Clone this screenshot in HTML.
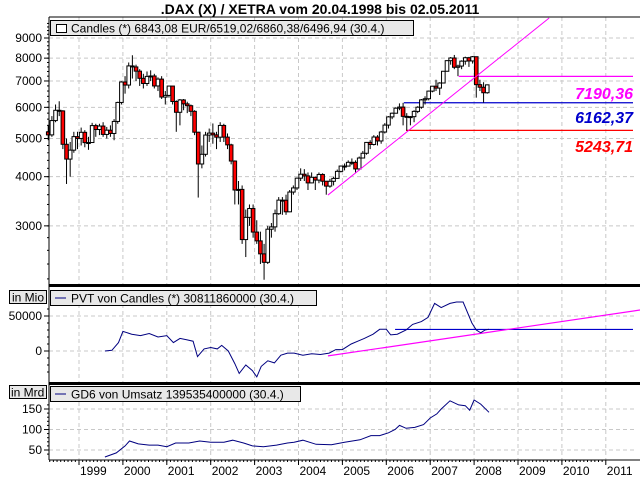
<!DOCTYPE html>
<html><head><meta charset="utf-8">
<style>
html,body{margin:0;padding:0;background:#fff;}
svg{display:block;font-family:"Liberation Sans",sans-serif;}
</style></head>
<body>
<svg id="chart" width="640" height="480" viewBox="0 0 640 480" xmlns="http://www.w3.org/2000/svg">
<rect x="0" y="0" width="640" height="480" fill="#fff"/>
<text x="320" y="14" text-anchor="middle" font-size="14" font-weight="bold">.DAX (X) / XETRA vom 20.04.1998 bis 02.05.2011</text>
<g id="grid"></g>
<g id="marks"></g>
<g id="axes"></g>
</svg>
<script>
// ---------- data ----------
const closes = [5107,5553,5897,5876,4834,4433,4671,5055,5002,
5184,4881,4884,5392,5270,5378,5121,5249,5150,5525,6174,6958,
6835,7644,7599,7414,7110,6898,7190,7208,6799,7077,6372,6434,
6795,6208,5829,6265,6123,6058,5862,5188,4308,4559,5102,5160,
5108,5039,5397,5041,4818,4383,3700,3713,2769,3153,3320,2893,
2748,2547,2424,2942,2982,3221,3487,3485,3257,3656,3745,3965,
4058,4018,3857,3985,3921,4052,3895,3785,3893,3960,4126,4256,
4255,4350,4349,4185,4461,4587,4887,4829,5044,4929,5194,5408,
5674,5797,5970,6009,5692,5683,5682,5859,6004,6268,6309,6597,
6789,6715,6917,7409,7883,8007,7584,7638,7861,8019,7870,8067,
6851,6748,6535,6843];
const highs = [5400,5700,6100,6217,5900,5000,4900,5200,5200,
5330,5250,5050,5480,5450,5450,5500,5350,5400,5600,6200,6990,
7200,7800,8136,7700,7500,7300,7400,7450,7300,7150,7200,6600,
6800,6800,6250,6300,6300,6200,6100,5900,5200,4800,5200,5300,
5460,5200,5500,5450,5150,4850,4400,3900,3800,3300,3400,3400,
3100,2900,2700,3000,3050,3300,3550,3550,3600,3700,3800,3980,
4200,4180,4100,4100,4000,4100,4080,3900,3950,4000,4170,4270,
4320,4400,4450,4400,4500,4650,4900,4950,5100,5100,5230,5470,
5700,5820,6000,6140,6160,5800,5700,5900,6040,6300,6400,6620,
6800,7050,6950,7420,7900,8050,8151,7700,7900,8070,8060,8100,
8050,7050,6950,6860];
const lows = [4950,5050,5500,5700,4700,3833,4000,4600,4700,
4800,4750,4680,4880,5050,5100,5050,5000,5050,4950,5450,6100,
6500,6700,7100,7000,6800,6700,6800,7000,6700,6600,6300,6100,
6350,6100,5200,5400,5900,5800,5700,5100,3540,4200,4500,4900,
4850,4700,4900,4900,4700,4300,3400,3400,2700,2500,3000,2800,
2700,2400,2189,2400,2800,2900,3200,3200,3200,3250,3600,3700,
3900,3900,3700,3850,3700,3850,3800,3600,3750,3800,3950,4100,
4150,4250,4280,4100,4150,4450,4550,4700,4800,4800,4850,5150,
5300,5600,5800,5900,5400,5240,5400,5500,5800,5950,6100,6250,
6550,6600,6450,6900,7400,7700,7500,7200,7500,7700,7600,7750,
6350,6600,6168,6497];
const firstOpen = 5200;
const priceLevels = [7190.36, 6162.37, 5243.71];
const priceLabels = ["7190,36","6162,37","5243,71"];
const priceTicks = [9000,8000,7000,6000,5000,4000,3000];
const years = [1999,2000,2001,2002,2003,2004,2005,2006,2007,2008,2009,2010,2011];

const pvtDates = [1999.59,1999.75,1999.9,2000.0,2000.2,2000.4,2000.6,2000.8,2001.0,2001.15,2001.3,2001.45,2001.6,2001.7,2001.85,2002.0,2002.15,2002.25,2002.4,2002.55,2002.65,2002.8,2002.95,2003.05,2003.15,2003.3,2003.45,2003.6,2003.75,2003.9,2004.1,2004.3,2004.5,2004.7,2004.85,2005.0,2005.2,2005.35,2005.5,2005.7,2005.85,2006.0,2006.1,2006.25,2006.45,2006.6,2006.8,2006.95,2007.1,2007.25,2007.45,2007.6,2007.75,2007.95,2008.05,2008.15,2008.25,2008.34];
const pvtValues = [0,1000,12000,28000,24000,22000,25000,20000,22000,12000,18000,16000,14000,-8000,3000,5000,3000,8000,0,-18000,-32000,-20000,-28000,-37000,-22000,-14000,-17000,-6000,-3000,-3000,-6000,-4000,-5000,-3000,2000,2000,10000,14000,18000,24000,31000,31000,23000,24000,30000,38000,42000,48000,68000,62000,68000,70000,70000,40000,30000,26000,30000,31000];
const pvtLevel = 30811.86;
const pvtTrend = [[2004.67,-7000],[2011.94,60000]];
const pvtTicks = [50000,0];

const gdDates = [1999.59,1999.85,2000.05,2000.15,2000.35,2000.6,2000.8,2001.0,2001.2,2001.5,2001.75,2002.0,2002.3,2002.5,2002.75,2002.95,2003.2,2003.5,2003.75,2003.9,2004.1,2004.4,2004.75,2005.05,2005.4,2005.65,2005.85,2006.05,2006.2,2006.3,2006.45,2006.65,2006.85,2007.0,2007.15,2007.25,2007.45,2007.65,2007.8,2007.9,2008.0,2008.15,2008.34];
const gdValues = [33,43,60,72,65,62,62,58,67,67,72,69,69,74,67,60,58,62,67,69,74,64,63,69,75,85,85,92,100,110,103,105,112,128,138,150,170,160,158,147,172,162,142];
const gdTicks = [150,100,50];
const pricePinkLine = [[2004.67,3592],[2009.71,10116]];

// ---------- scales ----------
const X0 = 49, XR = 636;
function xT(t){ return 79 + (t - 1999) * 43.9; }
function xM(i){ return xT(1998 + (i + 4) / 12) - 1.5; }
function yP(p){ return 38 + 171 * Math.log(9000 / p); }
function yV(v){ return 351 - v * 0.0007; }
function yG(v){ return 450 - (v - 50) * 0.41; }

const NS = "http://www.w3.org/2000/svg";
function mk(tag, attrs, parent){
  const e = document.createElementNS(NS, tag);
  for (const k in attrs) e.setAttribute(k, attrs[k]);
  parent.appendChild(e);
  return e;
}
const grid = document.getElementById('grid');
const marks = document.getElementById('marks');
const axes = document.getElementById('axes');
const GC = "#c8c8c8";

// vertical gridlines + year labels
years.forEach(y => {
  const x = xT(y);
  let g = mk('line', {x1:x, x2:x, y1:17, y2:460, stroke:GC, 'stroke-dasharray':'4,3'}, grid);
  
  
  let tk = mk('line', {x1:x, x2:x, y1:460, y2:465, stroke:'#000'}, axes);
  
  
  let t = mk('text', {x:x + 1, y:475, 'font-size':12}, axes);
  t.textContent = String(y);
  
  
});
for (let m = 0; m < 13*12; m++){
  const x = xT(1998 + m/12);
  if (x < X0 || x > XR) continue;
  let tk = mk('line', {x1:x, x2:x, y1:460, y2:462, stroke:'#000'}, axes);
  
  
}

// price horizontal grid + ticks
priceTicks.forEach(p => {
  const y = yP(p);
  let g = mk('line', {x1:X0, x2:XR, y1:y, y2:y, stroke:GC, 'stroke-dasharray':'4,3'}, grid);
  
  
  let tk = mk('line', {x1:X0-5, x2:X0, y1:y, y2:y, stroke:'#000'}, axes);
  
  
  let t = mk('text', {x:X0-7, y:y+4, 'font-size':12, 'text-anchor':'end'}, axes);
  t.textContent = String(p);
  
  
});
for (let p = 2200; p <= 9800; p += 200){
  const y = yP(p);
  if (y < 18 || y > 283) continue;
  let tk = mk('line', {x1:X0-2, x2:X0, y1:y, y2:y, stroke:'#000'}, axes);
  
  
}
pvtTicks.forEach(v => {
  const y = yV(v);
  let g = mk('line', {x1:X0, x2:XR, y1:y, y2:y, stroke:GC, 'stroke-dasharray':'4,3'}, grid);
  
  
  let tk = mk('line', {x1:X0-5, x2:X0, y1:y, y2:y, stroke:'#000'}, axes);
  
  
  let t = mk('text', {x:X0-7, y:y+4, 'font-size':12, 'text-anchor':'end'}, axes);
  t.textContent = String(v);
  
  
});
for (let v = -30000; v <= 60000; v += 10000){
  const y = yV(v);
  if (y < 290 || y > 381) continue;
  let tk = mk('line', {x1:X0-2, x2:X0, y1:y, y2:y, stroke:'#000'}, axes);
  
  
}
gdTicks.forEach(v => {
  const y = yG(v);
  let g = mk('line', {x1:X0, x2:XR, y1:y, y2:y, stroke:GC, 'stroke-dasharray':'4,3'}, grid);
  
  
  let tk = mk('line', {x1:X0-5, x2:X0, y1:y, y2:y, stroke:'#000'}, axes);
  
  
  let t = mk('text', {x:X0-7, y:y+4, 'font-size':12, 'text-anchor':'end'}, axes);
  t.textContent = String(v);
  
  
});
for (let v = 40; v <= 170; v += 10){
  const y = yG(v);
  if (y < 402 || y > 459) continue;
  let tk = mk('line', {x1:X0-2, x2:X0, y1:y, y2:y, stroke:'#000'}, axes);
  
  
}

// price reference lines
const lvlColors = ["#ff00ff","#0000cc","#ff0000"];
const lvlStart = [2007.65, 2006.4, 2006.45];
const lblY = [99, 123, 152];
priceLevels.forEach((p,i) => {
  const y = yP(p);
  let l = mk('line', {x1:xT(lvlStart[i]), x2:633, y1:y, y2:y, stroke:lvlColors[i], 'stroke-width':1.2}, marks);
  
  
  let t = mk('text', {x:633, y:lblY[i], 'font-size':16, 'font-weight':'bold', 'font-style':'italic', 'text-anchor':'end', fill:lvlColors[i]}, marks);
  t.textContent = priceLabels[i];
  
  
});

// candles
closes.forEach((c,i) => {
  const o = i === 0 ? firstOpen : closes[i-1];
  const x = xM(i);
  const w = mk('line', {x1:x, x2:x, y1:yP(highs[i]), y2:yP(lows[i]), stroke:'#000'}, marks);
  
  
  const top = yP(Math.max(o,c)), bot = yP(Math.min(o,c));
  const r = mk('rect', {x:x-1.8, y:top, width:3.6, height:Math.max(1, bot-top), fill: c < o ? '#ff0000' : '#ffffff', stroke:'#000', 'stroke-width':1}, marks);
  
  
});

// price pink trendline (clipped)
(function(){
  const [a,b] = pricePinkLine;
  let x1 = xT(a[0]), y1 = yP(a[1]), x2 = xT(b[0]), y2 = yP(b[1]);
  const l = mk('line', {x1:x1, y1:y1, x2:x2, y2:y2, stroke:'#ff00ff', 'stroke-width':1}, marks);
  
  
})();

// PVT
(function(){
  const l = mk('line', {x1:xT(2006.2), x2:633, y1:yV(pvtLevel), y2:yV(pvtLevel), stroke:'#0000cc', 'stroke-width':1.2}, marks);
  
  
  const t = mk('line', {x1:xT(pvtTrend[0][0]), y1:yV(pvtTrend[0][1]), x2:xT(pvtTrend[1][0]), y2:yV(pvtTrend[1][1]), stroke:'#ff00ff', 'stroke-width':1.2}, marks);
  
  
  const d = pvtDates.map((t,i) => (i?'L':'M') + xT(t).toFixed(1) + ',' + yV(pvtValues[i]).toFixed(1)).join(' ');
  const p = mk('path', {d:d, fill:'none', stroke:'#000080', 'stroke-width':1}, marks);
  
  
  const d2 = gdDates.map((t,i) => (i?'L':'M') + xT(t).toFixed(1) + ',' + yG(gdValues[i]).toFixed(1)).join(' ');
  const p2 = mk('path', {d:d2, fill:'none', stroke:'#000080', 'stroke-width':1}, marks);
  
  
})();
</script>
<svg style="position:absolute;left:0;top:0" width="640" height="480" xmlns="http://www.w3.org/2000/svg" font-family="Liberation Sans, sans-serif">
<!-- white masks outside plot area -->
<rect x="49" y="0" width="591" height="16" fill="#fff"/>
<line x1="49" y1="17" x2="640" y2="17" stroke="#000"/>
<line x1="49" y1="17" x2="49" y2="460" stroke="#000"/>
<rect x="49" y="284" width="591" height="3" fill="#000"/>
<rect x="49" y="382" width="591" height="3" fill="#000"/>
<line x1="49" y1="460" x2="640" y2="460" stroke="#000"/>
<g>
<rect x="50.5" y="20.5" width="363" height="15" fill="#e8e8e8" stroke="#000"/>
<rect x="56.5" y="24.5" width="10" height="8" fill="#fff" stroke="#000"/>
<text x="71" y="32.5" font-size="12">Candles (*) 6843,08 EUR/6519,02/6860,38/6496,94 (30.4.)</text>
</g>
<g>
<rect x="9.5" y="290.5" width="37" height="13" fill="#e8e8e8" stroke="#000"/>
<text x="12" y="301.5" font-size="12">in Mio</text>
</g>
<g>
<rect x="50.5" y="290.5" width="266" height="15" fill="#e8e8e8" stroke="#000"/>
<line x1="55" y1="298" x2="66" y2="298" stroke="#000080"/>
<text x="71" y="302.5" font-size="12">PVT von Candles (*) 30811860000 (30.4.)</text>
</g>
<g>
<rect x="9.5" y="385.5" width="37" height="13" fill="#e8e8e8" stroke="#000"/>
<text x="11" y="396.5" font-size="12">in Mrd</text>
</g>
<g>
<rect x="50.5" y="386.5" width="250" height="15" fill="#e8e8e8" stroke="#000"/>
<line x1="55" y1="394" x2="66" y2="394" stroke="#000080"/>
<text x="71" y="398.5" font-size="12">GD6 von Umsatz 139535400000 (30.4.)</text>
</g>
</svg>
<style>body{position:relative;width:640px;height:480px;overflow:hidden;}</style>
<script>
// re-add the title above the mask
(function(){
  const s = document.querySelectorAll('svg')[1];
  const t = document.createElementNS("http://www.w3.org/2000/svg", "text");
  t.setAttribute('x', 320); t.setAttribute('y', 14);
  t.setAttribute('text-anchor', 'middle'); t.setAttribute('font-size', 14); t.setAttribute('font-weight', 'bold');
  t.textContent = ".DAX (X) / XETRA vom 20.04.1998 bis 02.05.2011";
  
  
  s.appendChild(t);
})();
</script>
</body></html>
